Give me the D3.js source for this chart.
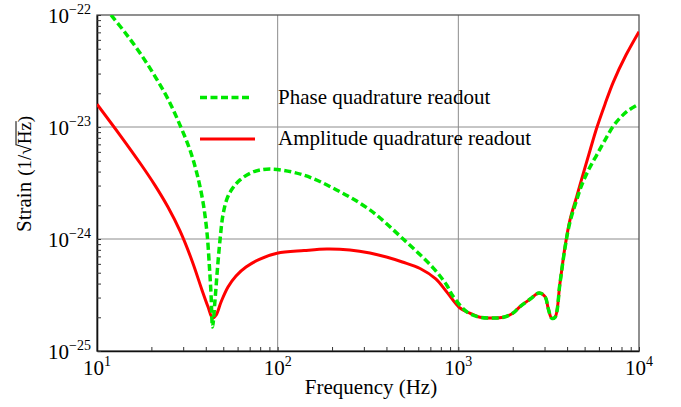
<!DOCTYPE html>
<html>
<head>
<meta charset="utf-8">
<script src="https://cdn.jsdelivr.net/npm/d3@7"></script>
<style>
  body { margin: 0; background: #fff; }
  text { font-family: "Liberation Serif", "DejaVu Serif", serif; }
</style>
</head>
<body>
<svg width="681" height="407"></svg>
<script>
// amplitude quadrature readout (red, solid)
const ampFreq = [10, 13.4, 17.3, 20.9, 24.7, 28.8, 33.6, 38.1, 41.2, 43.6, 45.6, 48.6, 53.1, 58.8, 66.8, 79.8, 99.2, 140, 187, 251, 324, 400, 490, 614, 750, 862, 1021, 1150, 1318, 1550, 1775, 2000, 2194, 2500, 2800, 3018, 3150, 3287, 3428, 3653, 3893, 4150, 4519, 4917, 5356, 5833, 6483, 7206, 8472, 10000]
const ampStrain = [1.6e-23, 8.48e-24, 4.77e-24, 3.03e-24, 1.93e-24, 1.18e-24, 6.37e-25, 3.51e-25, 2.47e-25, 1.97e-25, 2.09e-25, 2.74e-25, 3.73e-25, 4.68e-25, 5.62e-25, 6.62e-25, 7.45e-25, 7.88e-25, 8.14e-25, 7.98e-25, 7.5e-25, 6.9e-25, 6.23e-25, 5.45e-25, 4.4e-25, 3.37e-25, 2.42e-25, 2.19e-25, 2.0e-25, 1.97e-25, 2.0e-25, 2.17e-25, 2.49e-25, 2.91e-25, 3.3e-25, 3.06e-25, 2.37e-25, 1.96e-25, 2.0e-25, 4.04e-25, 8.49e-25, 1.48e-24, 2.39e-24, 3.86e-24, 6.17e-24, 9.8e-24, 1.6e-23, 2.52e-23, 4.39e-23, 7.1e-23]

// phase quadrature readout (green, dashed)
const phaseFreq = [11.96, 14.29, 17.3, 20.9, 24.7, 28.8, 32.7, 35.8, 38.6, 40.6, 41.95, 42.8, 43.6, 45.0, 46.45, 47.96, 49.8, 52.4, 55.9, 61.9, 73.0, 90.7, 138.7, 212, 324, 495, 727, 860, 937, 1112, 1318, 1550, 1775, 2000, 2194, 2500, 2800, 3018, 3150, 3287, 3428, 3653, 3893, 4150, 4519, 4818, 5287, 5833, 6483, 7206, 7949, 8804, 10000]
const phaseStrain = [1e-22, 6.98e-23, 4.58e-23, 2.85e-23, 1.78e-23, 1.04e-23, 6.24e-24, 3.8e-24, 2.14e-24, 1.15e-24, 5.5e-25, 3.16e-25, 1.64e-25, 2.85e-25, 5.5e-25, 9.8e-25, 1.64e-24, 2.28e-24, 2.79e-24, 3.37e-24, 3.96e-24, 4.21e-24, 3.73e-24, 2.74e-24, 1.82e-24, 1.0e-24, 5.5e-25, 3.9e-25, 3.06e-25, 2.24e-25, 2.0e-25, 1.97e-25, 2.0e-25, 2.17e-25, 2.49e-25, 2.91e-25, 3.3e-25, 3.06e-25, 2.37e-25, 1.96e-25, 2.0e-25, 4.04e-25, 8.32e-25, 1.42e-24, 2.23e-24, 3.03e-24, 4.22e-24, 5.62e-24, 7.65e-24, 1.02e-23, 1.23e-23, 1.42e-23, 1.6e-23]

const xDecades = [1, 2, 3, 4]
const yDecades = [-25, -24, -23, -22]
const legendLabels = ["Phase quadrature readout", "Amplitude quadrature readout"]

const mLeft = 97, mRight = 639, mTop = 15, mBottom = 351
const svg = d3.select("svg")

const x = d3.scaleLog().domain([10, 1e4]).range([mLeft, mRight])
const y = d3.scaleLog().domain([1e-25, 1e-22]).range([mBottom, mTop])

function minorTicks(lo, hi) {
  const t = []
  for (let e = lo; e < hi; e++)
    for (let m = 1; m < 10; m++) t.push(m * Math.pow(10, e))
  t.push(Math.pow(10, hi))
  return t
}

// grid lines at decades
svg.append("g")
  .attr("stroke", "#8c8c8c")
  .attr("stroke-width", 1)
  .selectAll("line")
  .data(xDecades.slice(1, -1))
  .enter().append("line")
  .attr("x1", d => x(Math.pow(10, d))).attr("x2", d => x(Math.pow(10, d)))
  .attr("y1", mTop).attr("y2", mBottom)
svg.append("g")
  .attr("stroke", "#8c8c8c")
  .attr("stroke-width", 1)
  .selectAll("line")
  .data(yDecades.slice(1, -1))
  .enter().append("line")
  .attr("y1", d => y(Math.pow(10, d))).attr("y2", d => y(Math.pow(10, d)))
  .attr("x1", mLeft).attr("x2", mRight)

// frame (top/right)
svg.append("rect")
  .attr("x", mLeft).attr("y", mTop)
  .attr("width", mRight - mLeft).attr("height", mBottom - mTop)
  .attr("fill", "none").attr("stroke", "#555").attr("stroke-width", 1.3)

// axes with inward ticks
const xAxis = d3.axisBottom(x).tickValues(minorTicks(1, 4)).tickSize(-4).tickSizeOuter(0).tickFormat("")
const yAxis = d3.axisLeft(y).tickValues(minorTicks(-25, -22)).tickSize(-4).tickSizeOuter(0).tickFormat("")
const gx = svg.append("g").attr("transform", `translate(0,${mBottom})`).call(xAxis)
const gy = svg.append("g").attr("transform", `translate(${mLeft},0)`).call(yAxis)
gx.select(".domain").attr("stroke", "#111").attr("stroke-width", 1.6)
gy.select(".domain").attr("stroke", "#111").attr("stroke-width", 1.6)
svg.selectAll(".tick line").attr("stroke", "#333").attr("stroke-width", 1)

// tick labels 10^n
const xl = svg.append("g").selectAll("text")
  .data(xDecades).enter().append("text")
  .attr("x", d => x(Math.pow(10, d)))
  .attr("y", 375)
  .attr("text-anchor", "middle")
  .attr("font-size", 21)
xl.append("tspan").text("10")
xl.append("tspan").attr("dy", -9).attr("font-size", 14).text(d => d)

const yl = svg.append("g").selectAll("text")
  .data(yDecades).enter().append("text")
  .attr("x", 91)
  .attr("y", d => y(Math.pow(10, d)) + 8)
  .attr("text-anchor", "end")
  .attr("font-size", 21)
yl.append("tspan").text("10")
yl.append("tspan").attr("dy", -9).attr("font-size", 14).text(d => "\u2212" + Math.abs(d))

// curves
svg.append("clipPath").attr("id", "clip")
  .append("rect").attr("x", mLeft).attr("y", mTop)
  .attr("width", mRight - mLeft).attr("height", mBottom - mTop)

const line = d3.line()
  .x(d => x(d[0]))
  .y(d => y(d[1]))
  .curve(d3.curveCatmullRom.alpha(0.5))

const plot = svg.append("g").attr("clip-path", "url(#clip)")
plot.append("path")
  .datum(d3.zip(ampFreq, ampStrain))
  .attr("fill", "none")
  .attr("stroke", "#ff0000")
  .attr("stroke-width", 3)
  .attr("d", line)
plot.append("path")
  .datum(d3.zip(phaseFreq, phaseStrain))
  .attr("fill", "none")
  .attr("stroke", "#00e800")
  .attr("stroke-width", 3.5)
  .attr("stroke-dasharray", "7,3.5")
  .attr("d", line)

// legend
const legend = svg.append("g")
legend.append("line")
  .attr("x1", 200).attr("x2", 250).attr("y1", 97.5).attr("y2", 97.5)
  .attr("stroke", "#00e800").attr("stroke-width", 3.5).attr("stroke-dasharray", "7,3.5")
legend.append("line")
  .attr("x1", 200).attr("x2", 255).attr("y1", 139).attr("y2", 139)
  .attr("stroke", "#ff0000").attr("stroke-width", 3)
legend.selectAll("text")
  .data(legendLabels).enter().append("text")
  .attr("x", 278)
  .attr("y", (d, i) => i == 0 ? 104 : 145)
  .attr("font-size", 21)
  .text(d => d)

// axis titles
svg.append("text")
  .attr("x", 371).attr("y", 394)
  .attr("text-anchor", "middle")
  .attr("font-size", 21)
  .text("Frequency (Hz)")

const yt = svg.append("g").attr("transform", "translate(31,232) rotate(-90)")
let cx = 0
function piece(str, size) {
  const t = yt.append("text").attr("x", cx).attr("y", 0).attr("font-size", size).text(str)
  const w = t.node().getComputedTextLength()
  const start = cx
  cx += w
  return [start, w]
}
piece("Strain", 21)
cx += 6
piece("(1/", 19)
const sq = piece("\u221A", 19)
const hz = piece("Hz", 19)
piece(")", 19)
yt.append("line")
  .attr("x1", sq[0] + sq[1] - 1).attr("x2", hz[0] + hz[1] + 1)
  .attr("y1", -15).attr("y2", -15)
  .attr("stroke", "#000").attr("stroke-width", 1)
</script>
</body>
</html>
